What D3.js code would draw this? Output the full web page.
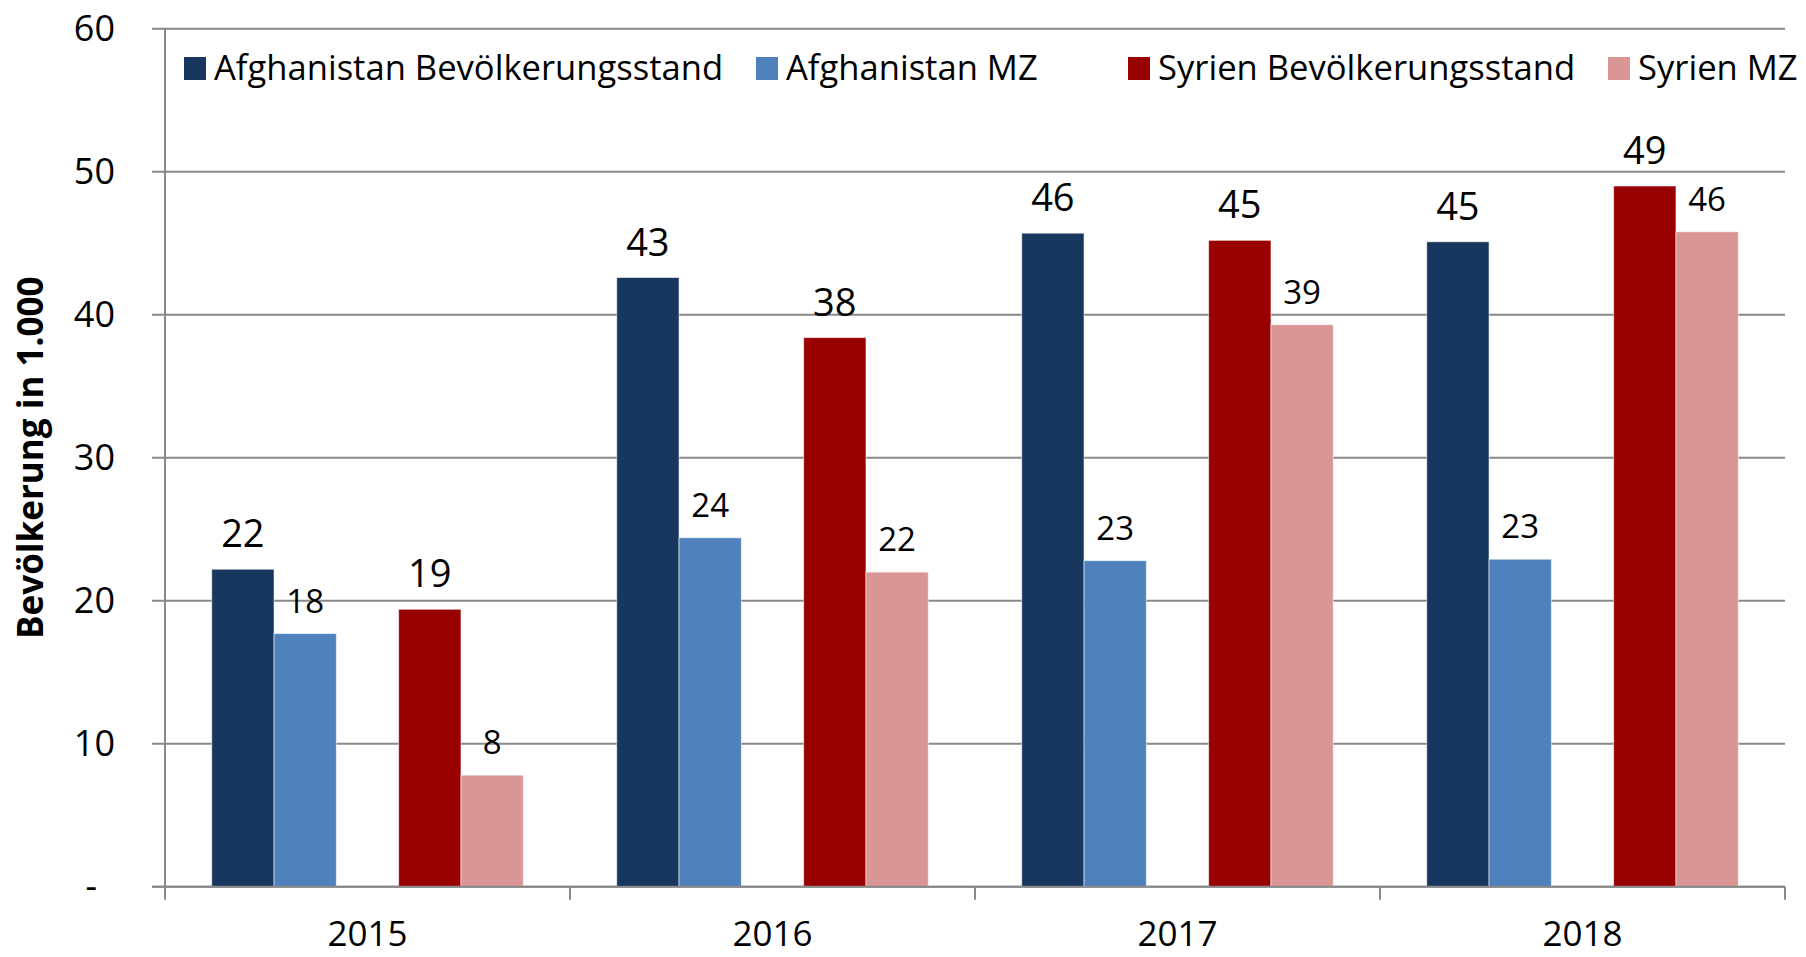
<!DOCTYPE html>
<html>
<head>
<meta charset="utf-8">
<script src="https://cdn.jsdelivr.net/npm/d3@7"></script>
<style>
  html, body { margin: 0; padding: 0; background: #fff; }
  svg { display: block; font-family: "Open Sans", "Noto Sans", sans-serif; }
</style>
</head>
<body>
<svg id="chart" width="1806" height="957"></svg>
<script>
// ---- data ----
const years = ["2015", "2016", "2017", "2018"];
const seriesNames = ["Afghanistan Bevölkerungsstand", "Afghanistan MZ", "Syrien Bevölkerungsstand", "Syrien MZ"];
const afghanistanBestand = [22.2, 42.6, 45.7, 45.1];
const afghanistanMZ = [17.7, 24.4, 22.8, 22.9];
const syrienBestand = [19.4, 38.4, 45.2, 49.0];
const syrienMZ = [7.8, 22.0, 39.3, 45.8];
const yTicks = [0, 10, 20, 30, 40, 50, 60];
const yTitle = "Bevölkerung in 1.000";

(function () {
// ---- styles ----
const colors = ["#17375E", "#4F81BD", "#990000", "#D99694"];
const big = [true, false, true, false];
const slots = ["s0", "s1", "gap", "s2", "s3"];
const seriesSlots = ["s0", "s1", "s2", "s3"];
const seriesValues = [afghanistanBestand, afghanistanMZ, syrienBestand, syrienMZ];

const svg = d3.select("#chart");
const mLeft = 165, mRight = 1785, mTop = 28.7, mBottom = 886.7;

const x = d3.scaleBand().domain(years).range([mLeft, mRight]).padding(0);
const xi = d3.scaleBand().domain(slots).range([0, x.bandwidth()]).paddingInner(0).paddingOuter(0.75);
const y = d3.scaleLinear().domain([0, 60]).range([mBottom, mTop]);

const gridColor = "#898989";

// gridlines
svg.append("g").selectAll("line").data(yTicks).join("line")
  .attr("x1", mLeft - 13).attr("x2", mRight)
  .attr("y1", d => y(d)).attr("y2", d => y(d))
  .attr("stroke", gridColor).attr("stroke-width", 2);

// y axis line
svg.append("line").attr("x1", mLeft).attr("x2", mLeft).attr("y1", mTop).attr("y2", mBottom)
  .attr("stroke", gridColor).attr("stroke-width", 2);

// x axis ticks at category boundaries
const bounds = years.map(d => x(d)).concat([mRight]);
svg.append("g").selectAll("line").data(bounds).join("line")
  .attr("x1", d => d).attr("x2", d => d)
  .attr("y1", mBottom).attr("y2", mBottom + 13)
  .attr("stroke", gridColor).attr("stroke-width", 2);

// bars
const barData = [];
seriesValues.forEach((vals, si) => {
  vals.forEach((v, yi) => barData.push({ si, year: years[yi], v }));
});
svg.append("g").selectAll("rect").data(barData).join("rect")
  .attr("x", d => x(d.year) + xi(seriesSlots[d.si]))
  .attr("width", xi.bandwidth())
  .attr("y", d => y(d.v))
  .attr("height", d => y(0) - y(d.v))
  .attr("fill", d => colors[d.si])
  .attr("stroke", "rgba(255,255,255,0.55)")
  .attr("stroke-width", 1);

// redraw x axis baseline over bars
svg.append("line").attr("x1", mLeft - 13).attr("x2", mRight).attr("y1", mBottom).attr("y2", mBottom)
  .attr("stroke", gridColor).attr("stroke-width", 2);

// data labels
const fmt = d3.format(".0f");
svg.append("g").selectAll("text").data(barData).join("text")
  .attr("x", d => x(d.year) + xi(seriesSlots[d.si]) + xi.bandwidth() / 2)
  .attr("y", d => y(d.v) - (big[d.si] ? 22 : 21))
  .attr("text-anchor", "middle")
  .attr("font-size", d => big[d.si] ? 38 : 33)
  .attr("fill", "#000")
  .text(d => fmt(d.v));

// y tick labels
svg.append("g").selectAll("text").data(yTicks).join("text")
  .attr("x", 115)
  .attr("dx", d => d === 0 ? -18 : 0)
  .attr("y", d => y(d) + 12.5)
  .attr("text-anchor", "end")
  .attr("font-size", 36)
  .attr("fill", "#000")
  .text(d => d === 0 ? "-" : d3.format("d")(d));

// x tick labels
svg.append("g").selectAll("text").data(years).join("text")
  .attr("x", d => x(d) + x.bandwidth() / 2)
  .attr("y", 946)
  .attr("text-anchor", "middle")
  .attr("font-size", 35)
  .attr("fill", "#000")
  .text(d => d);

// y title
svg.append("text")
  .attr("transform", `translate(43, ${(mTop + mBottom) / 2}) rotate(-90)`)
  .attr("text-anchor", "middle")
  .attr("font-size", 35)
  .attr("font-weight", "bold")
  .attr("fill", "#000")
  .text(yTitle);

// legend
const legendX = [184, 756, 1128, 1608];
const lg = svg.append("g").selectAll("g").data(seriesNames).join("g")
  .attr("transform", (d, i) => `translate(${legendX[i]}, 0)`);
lg.append("rect").attr("x", 0).attr("y", 57).attr("width", 22).attr("height", 23)
  .attr("fill", (d, i) => colors[i]);
lg.append("text").attr("x", 30).attr("y", 80)
  .attr("font-size", 34.6).attr("fill", "#000")
  .text(d => d);
})();
</script>
</body>
</html>
